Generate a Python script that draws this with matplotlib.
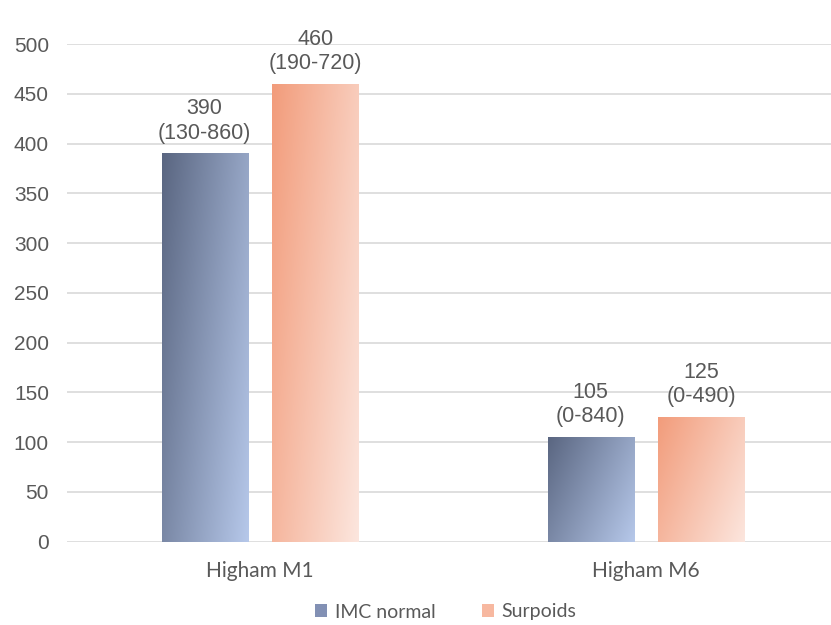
import numpy as np
import matplotlib
matplotlib.use("Agg")
import matplotlib.pyplot as plt
from matplotlib.colors import LinearSegmentedColormap
from matplotlib.patches import Patch

categories = ["Higham M1", "Higham M6"]
series_names = ["IMC normal", "Surpoids"]
imc_normal = [390, 105]
surpoids = [460, 125]
imc_ranges = ["(130-860)", "(0-840)"]
surpoids_ranges = ["(190-720)", "(0-490)"]
yticks = [0, 50, 100, 150, 200, 250, 300, 350, 400, 450, 500]

W, H = 831, 625
fig = plt.figure(figsize=(W / 100, H / 100), dpi=100)
left, right = 67, 839
bottom, top = 541.7, 44
ax = fig.add_axes([left / W, (H - bottom) / H, (right - left) / W, (bottom - top) / H])
ax.set_xlim(-0.5, 1.5)
ax.set_ylim(0, 500)

for s in ax.spines.values():
    s.set_visible(False)
ax.set_yticks(yticks)
ax.yaxis.grid(True, color="#d9d9d9", linewidth=1.2)
ax.set_axisbelow(True)
ax.tick_params(axis="y", length=0, pad=13, labelsize=15, labelcolor="#595959")
ax.tick_params(axis="x", length=0, pad=14, labelsize=15, labelcolor="#595959")
for lab in ax.get_yticklabels():
    lab.set_family("Liberation Sans")
ax.set_xticks(range(len(categories)))
ax.set_xticklabels(categories, family="Lato")

blue_cmap = LinearSegmentedColormap.from_list("b", ["#5a6681", "#b6c8ea"])
orange_cmap = LinearSegmentedColormap.from_list("o", ["#f29c7b", "#fce6de"])

width = 0.223
offset = 0.1435
x = np.arange(len(categories))

ny, nx = 200, 100
yy, xx = np.mgrid[0:1:complex(ny), 0:1:complex(nx)]
grad = (1.3 * xx + 0.7 * yy) / 2.0  # top-left dark -> bottom-right light (origin upper)

def grad_bars(xpos, vals, cmap, ranges):
    bars = ax.bar(xpos, vals, width=width, color="none", edgecolor="none")
    for b, v, r in zip(bars, vals, ranges):
        x0, w = b.get_x(), b.get_width()
        ax.imshow(grad, cmap=cmap, extent=[x0, x0 + w, 0, v], origin="upper",
                  aspect="auto", interpolation="bilinear", zorder=2, vmin=0, vmax=1)
        ax.text(x0 + w / 2, v + 10, f"{v}\n{r}", ha="center", va="bottom",
                fontsize=15.5, color="#595959", family="Liberation Sans",
                linespacing=1.2, clip_on=False)
    return bars

grad_bars(x - offset, imc_normal, blue_cmap, imc_ranges)
grad_bars(x + offset, surpoids, orange_cmap, surpoids_ranges)
ax.set_xlim(-0.5, 1.5)
ax.set_ylim(0, 500)

handles = [Patch(facecolor="#8290b4", edgecolor="none"),
           Patch(facecolor="#f7b8a0", edgecolor="none")]
leg = fig.legend(handles, series_names, loc="center", bbox_to_anchor=(446 / W, 1 - 612 / H),
                 ncol=2, frameon=False, handlelength=0.6, handleheight=0.6,
                 handletextpad=0.4, columnspacing=2.4, labelcolor="#595959",
                 prop={"family": "Lato", "size": 14})

fig.savefig("out.png", dpi=100)
